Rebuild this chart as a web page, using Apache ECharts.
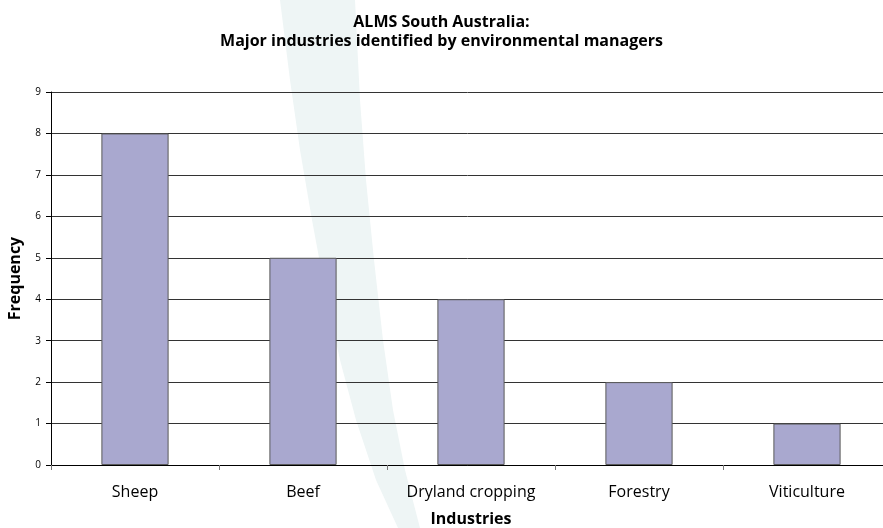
<!DOCTYPE html>
<html>
<head>
<meta charset="utf-8">
<script src="https://cdn.jsdelivr.net/npm/echarts@6/dist/echarts.min.js"></script>
<style>
html,body{margin:0;padding:0;background:#fff;}
#c{width:883px;height:528px;}
</style>
</head>
<body>
<div id="c"></div>
<script>
const categories = ['Sheep', 'Beef', 'Dryland cropping', 'Forestry', 'Viticulture'];
const frequency = [8, 5, 4, 2, 1];
const yTicks = [0, 1, 2, 3, 4, 5, 6, 7, 8, 9];

const chart = echarts.init(document.getElementById('c'));
const font = '"Open Sans", "Noto Sans", sans-serif';
chart.setOption({
  backgroundColor: '#ffffff',
  animation: false,
  textStyle: { fontFamily: font },
  title: {
    text: 'ALMS South Australia:\nMajor industries identified by environmental managers',
    left: 'center',
    top: 8,
    textStyle: { fontSize: 16, fontWeight: 'bold', color: '#000', lineHeight: 19, fontFamily: font }
  },
  graphic: [{
    type: 'polygon',
    z: -10,
    silent: true,
    shape: {
      points: [[280,0],[290,80],[300,150],[312,220],[325,290],[340,360],[356,420],[376,480],[398,528],
               [420,528],[405,470],[393,410],[383,340],[374,260],[366,180],[360,100],[355,0]]
    },
    style: { fill: '#eef5f5' }
  }],
  grid: { left: 51, width: 840, top: 92, bottom: 63, containLabel: false, outerBoundsMode: 'none' },
  xAxis: {
    type: 'category',
    data: categories,
    name: 'Industries',
    nameLocation: 'middle',
    nameGap: 46,
    nameTextStyle: { fontSize: 16, fontWeight: 'bold', color: '#000' },
    axisLine: { lineStyle: { color: '#000', width: 1 } },
    axisTick: { show: true, length: 5, inside: false, interval: 0, alignWithLabel: false, lineStyle: { color: '#777' } },
    axisLabel: { fontSize: 16, color: '#000', margin: 19, interval: 0, hideOverlap: false }
  },
  yAxis: {
    type: 'value',
    min: yTicks[0],
    max: yTicks[yTicks.length - 1],
    interval: 1,
    name: 'Frequency',
    nameLocation: 'middle',
    nameGap: 28,
    nameTextStyle: { fontSize: 16, fontWeight: 'bold', color: '#000' },
    axisLine: { show: true, lineStyle: { color: '#000', width: 1 } },
    axisTick: { show: true, length: 5, lineStyle: { color: '#000' } },
    axisLabel: { fontSize: 10, color: '#000', margin: 10 },
    splitLine: { show: true, lineStyle: { color: '#333', width: 1 } }
  },
  series: [{
    type: 'bar',
    data: frequency,
    barWidth: '40%',
    itemStyle: { color: '#a9a8cf', borderColor: '#5a5a5a', borderWidth: 1 }
  }]
});
</script>
</body>
</html>
